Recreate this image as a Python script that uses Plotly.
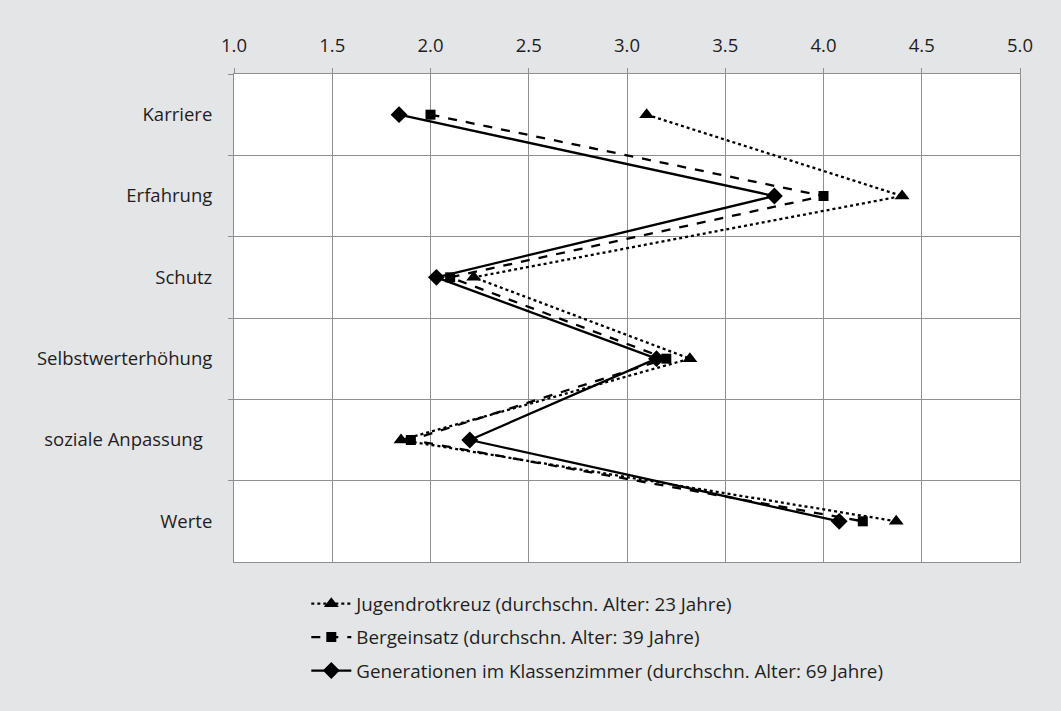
import plotly.graph_objects as go

# Motive categories (top to bottom)
categories = ["Karriere", "Erfahrung", "Schutz", "Selbstwerterhöhung",
              "soziale Anpassung\u00a0\u00a0", "Werte"]

# Mean ratings per group
jugendrotkreuz = [3.10, 4.40, 2.22, 3.32, 1.85, 4.37]
bergeinsatz = [2.00, 4.00, 2.10, 3.20, 1.90, 4.20]
generationen = [1.84, 3.75, 2.03, 3.15, 2.20, 4.08]

series_names = [
    "Jugendrotkreuz (durchschn. Alter: 23 Jahre)",
    "Bergeinsatz (durchschn. Alter: 39 Jahre)",
    "Generationen im Klassenzimmer (durchschn. Alter: 69 Jahre)",
]

x_ticks = [1.0, 1.5, 2.0, 2.5, 3.0, 3.5, 4.0, 4.5, 5.0]
x_tick_text = ["1.0", "1.5", "2.0", "2.5", "3.0", "3.5", "4.0", "4.5", "5.0"]

FONT = "Open Sans, Noto Sans, sans-serif"
INK = "#1e1e1e"
GRID = "#8f8f8f"
BG = "#e4e5e7"

fig = go.Figure()

styles = [
    (jugendrotkreuz, "dot", "triangle-up", 13),
    (bergeinsatz, "dash", "square", 10),
    (generationen, "solid", "diamond", 13),
]

for i, (name, (vals, dash, symbol, msize)) in enumerate(zip(series_names, styles)):
    fig.add_trace(go.Scatter(
        x=vals,
        y=categories,
        mode="lines+markers",
        name=name,
        legendgroup=f"g{i}",
        line=dict(color="black", width=2.3, dash=dash),
        marker=dict(symbol=symbol, size=msize, color="black"),
    ))

fig.update_layout(
    width=1061,
    height=711,
    paper_bgcolor=BG,
    plot_bgcolor="white",
    margin=dict(l=234, r=41, t=74, b=149, autoexpand=False),
    font=dict(family=FONT, size=18.5, color=INK),
    showlegend=True,
    legend=dict(
        x=0.092, y=-0.047, xanchor="left", yanchor="top",
        bgcolor="rgba(0,0,0,0)",
        font=dict(family=FONT, size=18.8, color=INK),
        tracegroupgap=6,
        itemwidth=40,
    ),
)

fig.update_xaxes(
    side="top",
    range=[1.0, 5.0],
    tickvals=x_ticks,
    ticktext=x_tick_text,
    ticks="outside",
    ticklen=5,
    tickcolor=GRID,
    showgrid=True,
    gridcolor=GRID,
    gridwidth=1,
    showline=True,
    linecolor=GRID,
    mirror=True,
    zeroline=False,
    ticklabelstandoff=9,
    tickfont=dict(family=FONT, size=18.5, color=INK),
)

fig.update_yaxes(
    type="category",
    categoryorder="array",
    categoryarray=categories,
    range=[len(categories) - 0.5, -0.5],
    tickson="boundaries",
    ticks="outside",
    ticklen=5,
    tickcolor=GRID,
    showgrid=True,
    gridcolor=GRID,
    gridwidth=1,
    showline=True,
    linecolor=GRID,
    mirror=True,
    ticklabelstandoff=17,
    tickfont=dict(family=FONT, size=18.5, color=INK),
)

fig.write_html("out.html")
